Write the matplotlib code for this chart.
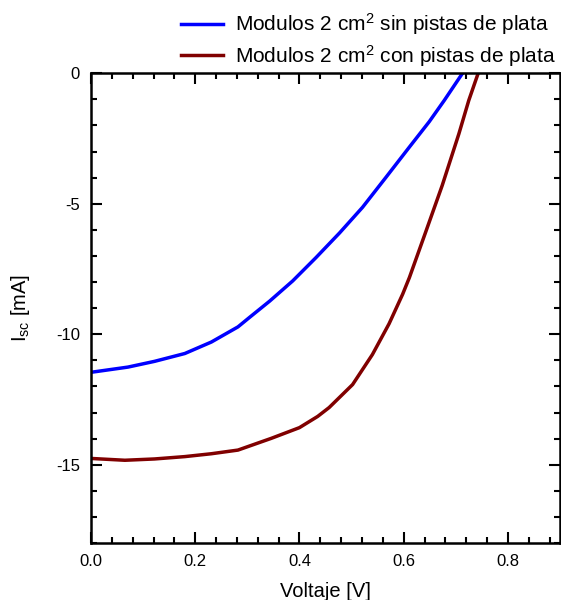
import numpy as np
import matplotlib.pyplot as plt
from matplotlib.ticker import MultipleLocator

plt.rcParams["font.family"] = ["Liberation Sans", "DejaVu Sans"]
plt.rcParams["mathtext.fontset"] = "custom"
plt.rcParams["mathtext.rm"] = "Liberation Sans"
plt.rcParams["mathtext.it"] = "Liberation Sans"
plt.rcParams["mathtext.default"] = "regular"

# sin pistas de plata
v_sin = [0, 0.071, 0.122, 0.18, 0.231, 0.282, 0.304, 0.343, 0.387, 0.432,
         0.477, 0.521, 0.566, 0.611, 0.649, 0.678, 0.713]
i_sin = [-11.46, -11.26, -11.04, -10.74, -10.3, -9.72, -9.36, -8.73, -7.96,
         -7.06, -6.12, -5.14, -3.99, -2.83, -1.86, -1.04, 0]

# con pistas de plata
v_con = [0, 0.065, 0.122, 0.18, 0.231, 0.282, 0.346, 0.4, 0.435, 0.457,
         0.502, 0.540, 0.572, 0.598, 0.611, 0.642, 0.674, 0.706, 0.725, 0.743]
i_con = [-14.76, -14.83, -14.78, -14.69, -14.58, -14.44, -13.99, -13.58,
         -13.15, -12.81, -11.93, -10.78, -9.6, -8.47, -7.83, -6.1, -4.3,
         -2.32, -1.04, 0]

labels = ["Modulos 2 cm$^2$ sin pistas de plata",
          "Modulos 2 cm$^2$ con pistas de plata"]

fig = plt.figure(figsize=(5.61, 6.0), dpi=100)
ax = fig.add_axes([0.1622, 0.095, 0.836, 0.783])

ax.plot(v_sin, i_sin, color="#0000ff", lw=2.5, label=labels[0])
ax.plot(v_con, i_con, color="#800000", lw=2.5, label=labels[1])

ax.set_xlim(0, 0.9)
ax.set_ylim(-18, 0)
ax.xaxis.set_major_locator(MultipleLocator(0.2))
ax.xaxis.set_minor_locator(MultipleLocator(0.04))
ax.yaxis.set_major_locator(MultipleLocator(5))
ax.yaxis.set_minor_locator(MultipleLocator(1))
ax.set_yticks([0, -5, -10, -15])
ax.set_yticklabels(["0", "-5", "-10", "-15"])
ax.tick_params(which="both", direction="in", top=True, right=True,
               labelsize=12, width=1.5)
ax.tick_params(which="major", length=8, pad=8)
ax.tick_params(which="minor", length=4)
for s in ax.spines.values():
    s.set_linewidth(1.8)

ax.set_xlabel("Voltaje [V]", fontsize=14.5, labelpad=9)
ax.set_ylabel("I$_{sc}$ [mA]", fontsize=14.5, labelpad=17)

fig.legend(loc="upper left", bbox_to_anchor=(0.29, 1.012), frameon=False,
           fontsize=15, handlelength=2.0, handletextpad=0.55, labelspacing=0.25)

fig.savefig("out.png", dpi=100)
